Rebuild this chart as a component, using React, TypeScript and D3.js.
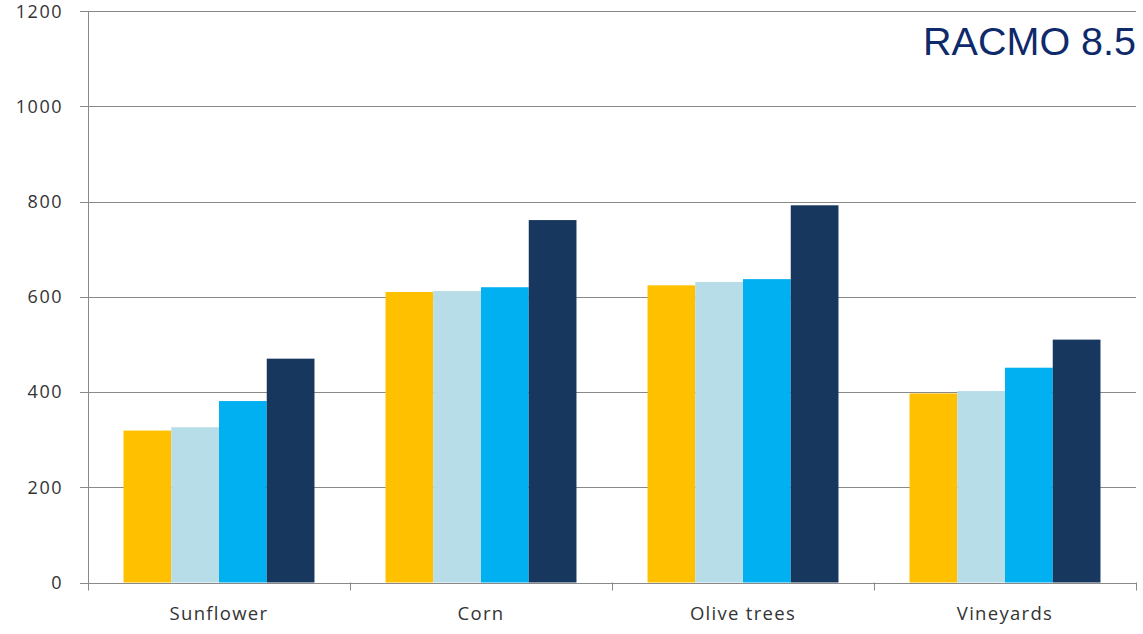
import React from "react";
import * as d3 from "d3";

const categories = ["Sunflower", "Corn", "Olive trees", "Vineyards"];
const seriesNames = ["s1", "s2", "s3", "s4"];
const seriesValues: number[][] = [
  [319, 610, 624, 397],
  [326, 612, 631, 402],
  [381, 620, 637, 451],
  [470, 761, 792, 510],
];
const seriesColors = ["#FFC000", "#B7DDE8", "#00B0F0", "#17375E"];
const yTicks = [0, 200, 400, 600, 800, 1000, 1200];
const title = "RACMO 8.5";

export default function App() {
  const W = 1143, H = 634;
  const left = 88, right = 1136, top = 11, bottom = 582.5;
  const x = d3.scaleBand<string>().domain(categories).range([left, right]).paddingInner(0).paddingOuter(0);
  const y = d3.scaleLinear().domain([0, 1200]).range([bottom, top]);
  const bw = x.bandwidth();
  const groupW = bw / 1.372; // gap width ~150%
  const inner = d3.scaleBand<string>().domain(seriesNames).range([0, groupW]);
  const fontAxis = "Open Sans, Liberation Sans, sans-serif";
  return (
    <svg width={W} height={H} style={{ position: "absolute", left: 0, top: 0, background: "#fff" }}>
      {yTicks.map((t) => (
        <g key={t}>
          <line x1={80} x2={right} y1={Math.round(y(t)) + 0.5} y2={Math.round(y(t)) + 0.5} stroke="#898989" strokeWidth={1} />
          <text x={63} y={Math.max(y(t), 12)} dy="0.36em" textAnchor="end" fontFamily={fontAxis} fontSize={18} letterSpacing={1.5} fill="#333">
            {t}
          </text>
        </g>
      ))}
      <line x1={left + 0.5} x2={left + 0.5} y1={top} y2={bottom + 8} stroke="#898989" />
      {categories.map((c) => (
        <line key={c} x1={Math.round(x(c)! + bw) + 0.5} x2={Math.round(x(c)! + bw) + 0.5} y1={bottom} y2={bottom + 8} stroke="#898989" />
      ))}
      {categories.map((c, ci) => (
        <g key={c} transform={`translate(${x(c)! + (bw - groupW) / 2},0)`}>
          {seriesNames.map((s, si) => {
            const v = seriesValues[si][ci];
            return (
              <rect
                key={s}
                x={inner(s)!}
                y={y(v)}
                width={inner.bandwidth()}
                height={bottom - y(v)}
                fill={seriesColors[si]}
              />
            );
          })}
        </g>
      ))}
      {categories.map((c) => (
        <text key={c} x={x(c)! + bw / 2} y={613} dy="0.36em" textAnchor="middle" fontFamily={fontAxis} fontSize={18.5} letterSpacing={1.3} fill="#333">
          {c}
        </text>
      ))}
      <text x={1136} y={55} textAnchor="end" fontFamily="Liberation Sans, Arial, sans-serif" fontSize={39.5} fill="#0E2A6B">
        {title}
      </text>
    </svg>
  );
}
